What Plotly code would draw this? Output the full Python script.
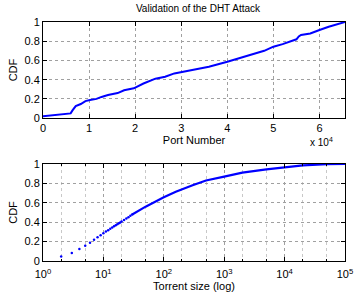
import plotly.graph_objects as go
from plotly.subplots import make_subplots

# Top panel: CDF of port numbers
port_x = [0, 3000, 6000, 6400, 7100, 8200, 9200, 10200, 11600, 12700, 14100, 16200,
          17600, 19700, 21800, 24400, 26500, 28500, 30000, 36000,
          40000, 44000, 47000, 48000, 50000, 52000, 55000, 55500, 56000, 58000,
          60000, 62000, 65535]
port_cdf = [0.02, 0.035, 0.049, 0.08, 0.125, 0.146, 0.177, 0.188, 0.20, 0.22, 0.24, 0.26,
            0.29, 0.31, 0.36, 0.41, 0.43, 0.465, 0.48, 0.535,
            0.586, 0.64, 0.68, 0.70, 0.743, 0.77, 0.82, 0.85, 0.865, 0.88,
            0.917, 0.95, 1.0]
port_ticks = [0, 10000, 20000, 30000, 40000, 50000, 60000]
port_ticktext = ["0", "1", "2", "3", "4", "5", "6"]

# Bottom panel: CDF of torrent size
size_small = [2, 3, 4, 5, 6, 7, 8, 9, 10, 11, 12, 13, 14, 15, 16, 17, 18, 19, 20,
              22, 24, 26, 28, 30]
size_small_cdf = [0.047, 0.082, 0.123, 0.157, 0.187, 0.218, 0.245, 0.266, 0.287, 0.303,
                  0.318, 0.332, 0.345, 0.357, 0.368, 0.378, 0.388, 0.397, 0.406,
                  0.423, 0.438, 0.452, 0.466, 0.48]
size_large = [30, 50, 100, 158, 300, 500, 1000, 2000, 5000, 10000, 20000, 50000, 100000]
size_large_cdf = [0.48, 0.56, 0.656, 0.713, 0.78, 0.83, 0.87, 0.91, 0.945, 0.966,
                  0.985, 0.997, 1.0]
size_ticks = [1, 10, 100, 1000, 10000, 100000]
size_ticktext = ["10<sup>0</sup>", "10<sup>1</sup>", "10<sup>2</sup>", "10<sup>3</sup>",
                 "10<sup>4</sup>", "10<sup>5</sup>"]

cdf_ticks = [0, 0.2, 0.4, 0.6, 0.8, 1]
cdf_ticktext = ["0", "0.2", "0.4", "0.6", "0.8", "1"]

FONT = "Liberation Sans, Arial, sans-serif"
BLUE = "#0000ff"
GRID = "#a0a0a0"

fig = make_subplots(rows=2, cols=1, vertical_spacing=0.192)

fig.add_trace(go.Scatter(x=port_x, y=port_cdf, mode="lines",
                         line=dict(color=BLUE, width=2),
                         showlegend=False), row=1, col=1)
fig.add_trace(go.Scatter(x=size_small, y=size_small_cdf, mode="markers",
                         marker=dict(color=BLUE, size=2.5),
                         showlegend=False), row=2, col=1)
fig.add_trace(go.Scatter(x=size_large, y=size_large_cdf, mode="lines",
                         line=dict(color=BLUE, width=2.2),
                         showlegend=False), row=2, col=1)

axis_common = dict(showline=True, linecolor="black", linewidth=1, mirror="allticks",
                   ticks="inside", ticklen=4, tickcolor="black",
                   showgrid=True, gridcolor=GRID, griddash="dot", gridwidth=1,
                   zeroline=False, tickfont=dict(size=11, color="black", family=FONT))

fig.update_xaxes(**axis_common, row=1, col=1, range=[0, 65535],
                 tickvals=port_ticks, ticktext=port_ticktext,
                 title=dict(text="Port Number", font=dict(size=11, color="black", family=FONT),
                            standoff=1))
fig.update_yaxes(**axis_common, row=1, col=1, range=[0, 1],
                 tickvals=cdf_ticks, ticktext=cdf_ticktext,
                 title=dict(text="CDF", font=dict(size=11, color="black", family=FONT),
                            standoff=4))
fig.update_xaxes(**axis_common, row=2, col=1, type="log", range=[0, 5.0005],
                 tickvals=size_ticks, ticktext=size_ticktext, ticklabeloverflow="allow",
                 ticklabelstandoff=3,
                 minor=dict(ticks="inside", ticklen=2, tickcolor="black", showgrid=True,
                            gridcolor="#c8c8c8", griddash="dot", gridwidth=1),
                 title=dict(text="Torrent size (log)", font=dict(size=11, color="black", family=FONT),
                            standoff=0))
fig.update_yaxes(**axis_common, row=2, col=1, range=[0, 1],
                 tickvals=cdf_ticks, ticktext=cdf_ticktext,
                 title=dict(text="CDF", font=dict(size=11, color="black", family=FONT),
                            standoff=4))

fig.update_layout(
    width=360, height=298,
    margin=dict(l=43, r=7, t=22, b=37),
    paper_bgcolor="white", plot_bgcolor="white",
    font=dict(family=FONT, color="black", size=11),
    title=dict(text="Validation of the DHT Attack", x=0.55, xanchor="center",
               y=0.97, yanchor="middle", font=dict(size=10, color="black", family=FONT)),
    annotations=[dict(text="x 10<sup>4</sup>", xref="paper", yref="paper",
                      x=0.968, y=0.50, xanchor="right", yanchor="middle", showarrow=False,
                      font=dict(size=10, color="black", family=FONT))],
)
fig.update_yaxes(domain=[0.598, 1.0], row=1, col=1)
fig.update_yaxes(domain=[0.0, 0.406], row=2, col=1)

fig.write_html("out.html", config={"displayModeBar": False},
               post_script="document.body.style.margin='0';")
